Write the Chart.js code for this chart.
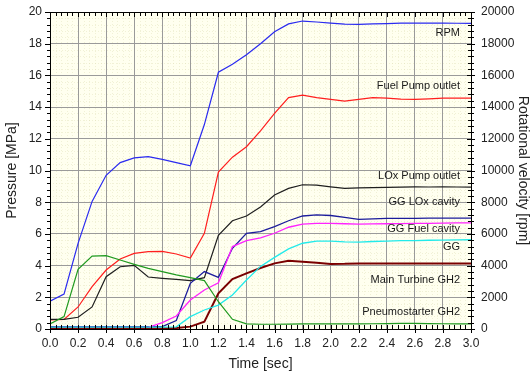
<!DOCTYPE html>
<html>
<head>
<meta charset="utf-8">
<script src="https://cdn.jsdelivr.net/npm/chart.js@4.4.0/dist/chart.umd.min.js"></script>
<style>
  html, body { margin: 0; padding: 0; background: #fff; }
  #c { display: block; }
</style>
</head>
<body>
<canvas id="c" width="531" height="377"></canvas>
<script>
// time base, sec
var time = [0.0,0.1,0.2,0.3,0.4,0.5,0.6,0.7,0.8,0.9,1.0,1.1,1.2,1.3,1.4,1.5,
            1.6,1.7,1.8,1.9,2.0,2.1,2.2,2.3,2.4,2.5,2.6,2.7,2.8,2.9,3.0];

// rotational velocity, rpm (right axis)
var rpm = [1750,2200,5400,8050,9700,10500,10800,10870,10700,10500,10300,12900,16200,16700,17300,18000,
           18750,19250,19430,19370,19300,19230,19220,19250,19270,19300,19300,19300,19300,19290,19280];

// pressures, MPa (left axis)
var fuelPump = [0.57,0.6,1.39,2.67,3.72,4.42,4.77,4.88,4.9,4.73,4.48,6.04,9.9,10.84,11.5,12.5,
                13.6,14.6,14.76,14.6,14.49,14.38,14.49,14.6,14.56,14.5,14.49,14.52,14.56,14.56,14.56];
var loxPump = [0.61,0.61,0.74,1.39,3.3,3.93,4.02,3.28,3.2,3.13,3.05,3.24,5.91,6.83,7.13,7.7,
               8.45,8.87,9.1,9.08,8.97,8.87,8.9,8.92,8.93,8.95,8.97,8.96,8.97,8.96,8.95];
var ggLox = [0.15,0.15,0.15,0.15,0.15,0.15,0.15,0.15,0.15,0.53,2.88,3.62,3.26,5.09,6.04,6.14,
             6.46,6.83,7.13,7.2,7.16,7.04,6.92,6.95,6.98,6.98,6.98,6.99,7.0,7.0,7.0];
var ggFuel = [0.1,0.1,0.1,0.1,0.1,0.1,0.1,0.1,0.4,0.82,1.83,2.46,2.92,5.2,5.57,5.75,
              6.04,6.42,6.62,6.66,6.66,6.64,6.62,6.63,6.64,6.65,6.66,6.67,6.68,6.69,6.69];
var gg = [0.12,0.12,0.12,0.12,0.12,0.12,0.12,0.12,0.12,0.14,0.78,1.2,1.51,2.15,3.09,3.95,
          4.52,5.05,5.41,5.55,5.55,5.5,5.48,5.52,5.55,5.57,5.58,5.6,5.61,5.62,5.63];
var mainTurbine = [0.05,0.05,0.05,0.05,0.05,0.05,0.05,0.05,0.05,0.06,0.15,0.46,2.25,3.15,3.51,3.85,
                   4.14,4.31,4.25,4.18,4.1,4.11,4.14,4.14,4.14,4.14,4.14,4.14,4.14,4.14,4.14];
var pneumo = [0.32,0.78,3.76,4.6,4.63,4.35,4.08,3.83,3.62,3.41,3.24,3.05,1.72,0.61,0.32,0.3,
              0.3,0.31,0.32,0.32,0.32,0.32,0.32,0.33,0.34,0.35,0.36,0.34,0.33,0.32,0.32];

// curve labels and the pressure level they sit at
var labelText = ["RPM","Fuel Pump outlet","LOx Pump outlet","GG LOx cavity","GG Fuel cavity","GG","Main Turbine GH2","Pneumostarter GH2"];
var labelLevel = [18.7,15.35,9.65,8.0,6.3,5.2,3.1,1.1];

function pts(arr) {
  return time.map(function (t, i) { return { x: t, y: arr[i] }; });
}

function line(label, arr, color, w, axis) {
  return {
    label: label,
    data: pts(arr),
    borderColor: color,
    borderWidth: w,
    pointRadius: 0,
    tension: 0,
    fill: false,
    yAxisID: axis || 'y'
  };
}

var deco = {
  id: 'deco',
  beforeDraw: function (chart) {
    var c = chart.ctx, a = chart.chartArea;
    var sx = chart.scales.x, sy = chart.scales.y;
    c.save();
    c.fillStyle = '#ffffef';
    c.fillRect(a.left, a.top, a.right - a.left, a.bottom - a.top);
    // faint dotted minor grid
    c.strokeStyle = 'rgba(215,215,170,0.35)';
    c.lineWidth = 1;
    c.setLineDash([1, 2]);
    for (var k = 1; k < 75; k++) {
      if (k % 5 == 0) continue;
      var px = Math.round(sx.getPixelForValue(k * 0.04)) + 0.5;
      c.beginPath(); c.moveTo(px, a.top); c.lineTo(px, a.bottom); c.stroke();
    }
    for (var j = 1; j < 50; j++) {
      if (j % 5 == 0) continue;
      var py = Math.round(sy.getPixelForValue(j * 0.4)) + 0.5;
      c.beginPath(); c.moveTo(a.left, py); c.lineTo(a.right, py); c.stroke();
    }
    c.restore();
  },
  afterDraw: function (chart) {
    var c = chart.ctx, a = chart.chartArea;
    var sx = chart.scales.x, sy = chart.scales.y;
    c.save();
    c.strokeStyle = '#000';
    c.lineWidth = 1;
    c.strokeRect(Math.round(a.left) + 0.5, Math.round(a.top) + 0.5,
                 Math.round(a.right - a.left), Math.round(a.bottom - a.top));
    c.beginPath();
    for (var k = 0; k <= 75; k++) {
      var px = Math.round(sx.getPixelForValue(k * 0.04)) + 0.5;
      var major = k % 5 == 0;
      c.moveTo(px, a.top); c.lineTo(px, a.top + (major ? 5 : 4));
      if (major) { c.moveTo(px, a.bottom - 4); c.lineTo(px, a.bottom + 4); }
      else { c.moveTo(px, a.bottom - 4); c.lineTo(px, a.bottom); }
    }
    for (var j = 0; j <= 50; j++) {
      var py = Math.round(sy.getPixelForValue(j * 0.4)) + 0.5;
      var maj = j % 5 == 0;
      c.moveTo(a.left - (maj ? 5 : 3), py); c.lineTo(a.left, py);
      c.moveTo(a.right - (maj ? 4 : 3), py); c.lineTo(a.right + (maj ? 4 : 3), py);
    }
    c.stroke();
    // curve names
    c.fillStyle = '#1a1a1a';
    c.font = '11px "Liberation Sans", Arial, sans-serif';
    c.textAlign = 'right';
    c.textBaseline = 'middle';
    for (var i = 0; i < labelText.length; i++) {
      c.fillText(labelText[i], a.right - 11, sy.getPixelForValue(labelLevel[i]));
    }
    c.restore();
  }
};

var fontFam = '"Liberation Sans", Arial, sans-serif';

function fixV(w) {
  return function (s) { s.width = w; s.paddingTop = 0; s.paddingBottom = 0; };
}

new Chart(document.getElementById('c').getContext('2d'), {
  type: 'line',
  data: {
    datasets: [
      line('Pneumostarter GH2', pneumo, '#1f9a1f', 1.2),
      line('GG', gg, '#22eaea', 1.3),
      line('Main Turbine GH2', mainTurbine, '#7a0000', 2),
      line('GG Fuel cavity', ggFuel, '#ff22ff', 1.3),
      line('GG LOx cavity', ggLox, '#1c1c9c', 1.3),
      line('LOx Pump outlet', loxPump, '#1e1e1e', 1.2),
      line('Fuel Pump outlet', fuelPump, '#ff1e1e', 1.2),
      line('RPM', rpm, '#2a2af0', 1.2, 'y2')
    ]
  },
  options: {
    responsive: false,
    animation: false,
    devicePixelRatio: 1,
    layout: { padding: { top: 12, left: 0, right: 0, bottom: 0 } },
    plugins: { legend: { display: false }, tooltip: { enabled: false } },
    scales: {
      x: {
        type: 'linear', min: 0, max: 3,
        ticks: {
          stepSize: 0.2, color: '#222', padding: 7,
          font: { family: fontFam, size: 12 },
          callback: function (v) { return v.toFixed(1); }
        },
        grid: { color: '#9a9a9a', drawTicks: false },
        border: { display: false },
        title: { display: true, text: 'Time [sec]', color: '#222', font: { family: fontFam, size: 14 }, padding: { top: 6 } },
        afterFit: function (s) { s.height = 48; s.paddingLeft = 0; s.paddingRight = 0; }
      },
      y: {
        position: 'left', min: 0, max: 20,
        ticks: { stepSize: 2, color: '#222', padding: 8, font: { family: fontFam, size: 12 } },
        grid: { color: '#9a9a9a', drawTicks: false },
        border: { display: false },
        title: { display: true, text: 'Pressure [MPa]', color: '#222', font: { family: fontFam, size: 14 }, padding: { top: 4, bottom: 0 } },
        afterFit: fixV(50)
      },
      y2: {
        position: 'right', min: 0, max: 20000,
        ticks: {
          stepSize: 2000, color: '#222', padding: 10, font: { family: fontFam, size: 12 },
          callback: function (v) { return String(v); }
        },
        grid: { drawOnChartArea: false, drawTicks: false },
        border: { display: false },
        title: { display: true, text: 'Rotational velocity [rpm]', color: '#222', font: { family: fontFam, size: 14 }, padding: { top: 0, bottom: 0 } },
        afterFit: fixV(60)
      }
    }
  },
  plugins: [deco]
});
</script>
</body>
</html>
